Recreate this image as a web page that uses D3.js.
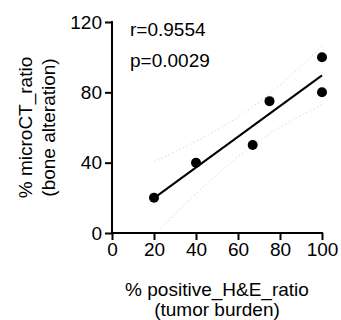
<!DOCTYPE html>
<html>
<head>
<meta charset="utf-8">
<script src="https://cdn.jsdelivr.net/npm/d3@7"></script>
<style>
  body { margin: 0; background: #fff; }
  svg text { font-family: Arial, "Liberation Sans", sans-serif; fill: #000; }
</style>
</head>
<body>
<script>
// tumor burden vs bone alteration, with linear fit + 95% CI
var tumorBurden = [20, 40, 67, 75, 100, 100];
var boneAlteration = [20, 40, 50, 75, 100, 80];
var xTicks = [0, 20, 40, 60, 80, 100];
var yTicks = [0, 40, 80, 120];
var statsText = ["r=0.9554", "p=0.0029"];

var width = 341,
    height = 320;

var svg = d3.select("body")
    .append("svg")
    .attr("width", width)
    .attr("height", height);

var x = d3.scaleLinear().domain([0, 100]).range([112, 322]);
var y = d3.scaleLinear().domain([0, 120]).range([233, 22]);

// regression
var n = tumorBurden.length;
var mx = d3.mean(tumorBurden), my = d3.mean(boneAlteration);
var sxx = 0, sxy = 0, syy = 0;
for (var i = 0; i < n; i++) {
    sxx += (tumorBurden[i] - mx) * (tumorBurden[i] - mx);
    sxy += (tumorBurden[i] - mx) * (boneAlteration[i] - my);
    syy += (boneAlteration[i] - my) * (boneAlteration[i] - my);
}
var slope = sxy / sxx,
    intercept = my - slope * mx;
var s = Math.sqrt((syy - sxy * sxy / sxx) / (n - 2));
var tCrit = 2.776; // df = 4

var xs = d3.range(20, 100.01, 1);
var band = function(sign) {
    return xs.map(function(v) {
        var se = s * Math.sqrt(1 / n + (v - mx) * (v - mx) / sxx);
        return [v, intercept + slope * v + sign * tCrit * se];
    });
};

svg.append("clipPath").attr("id", "plotClip")
    .append("rect")
    .attr("x", x(0)).attr("y", y(120))
    .attr("width", x(100) - x(0))
    .attr("height", y(0) - y(120) - 3);

var line = d3.line()
    .x(function(d) { return x(d[0]); })
    .y(function(d) { return y(d[1]); });

[1, -1].forEach(function(sg) {
    svg.append("path")
        .datum(band(sg))
        .attr("clip-path", "url(#plotClip)")
        .attr("fill", "none")
        .attr("stroke", "#c8c8c8")
        .attr("stroke-width", 1)
        .attr("stroke-dasharray", "1,3")
        .attr("d", line);
});

svg.append("path")
    .datum([[20, intercept + slope * 20], [100, intercept + slope * 100]])
    .attr("fill", "none")
    .attr("stroke", "#000")
    .attr("stroke-width", 2)
    .attr("d", line);

// axes
var xAxis = svg.append("g")
    .attr("transform", "translate(0," + y(0) + ")")
    .call(d3.axisBottom(x).tickValues(xTicks).tickSize(7).tickSizeOuter(0).tickPadding(3));
var yAxis = svg.append("g")
    .attr("transform", "translate(" + x(0) + ",0)")
    .call(d3.axisLeft(y).tickValues(yTicks).tickSize(7).tickSizeOuter(0).tickPadding(3));

[xAxis, yAxis].forEach(function(g) {
    g.selectAll(".domain, .tick line")
        .style("stroke", "#000")
        .style("stroke-width", "2px");
    g.selectAll("text").style("font-size", "19px").attr("fill", "#000");
});
xAxis.select(".domain").attr("d", "M" + (x(0) - 1) + ",0H" + (x(100) + 1));
yAxis.select(".domain").attr("d", "M0," + 1 + "V" + (y(120) - 1));
yAxis.select(".domain").attr("d", "M0," + y(0) + "V" + (y(120) - 1));

// points
svg.selectAll(".dot")
    .data(tumorBurden)
    .enter()
    .append("circle")
    .attr("class", "dot")
    .attr("cx", function(d) { return x(d); })
    .attr("cy", function(d, i) { return y(boneAlteration[i]); })
    .attr("r", 5)
    .attr("fill", "#000");

// stats
svg.selectAll(".stat")
    .data(statsText)
    .enter()
    .append("text")
    .attr("class", "stat")
    .attr("x", 130)
    .attr("y", function(d, i) { return 36 + i * 31; })
    .style("font-size", "19px")
    .text(function(d) { return d; });

// axis titles
svg.append("text")
    .attr("text-anchor", "middle")
    .attr("x", (x(0) + x(100)) / 2)
    .attr("y", 296)
    .style("font-size", "19px")
    .text("% positive_H&E_ratio");
svg.append("text")
    .attr("text-anchor", "middle")
    .attr("x", (x(0) + x(100)) / 2)
    .attr("y", 316)
    .style("font-size", "19px")
    .text("(tumor burden)");

var yl = svg.append("g")
    .attr("transform", "translate(0," + ((y(0) + y(120)) / 2) + ") rotate(-90)");
yl.append("text")
    .attr("text-anchor", "middle")
    .attr("y", 32)
    .style("font-size", "19px")
    .text("% microCT_ratio");
yl.append("text")
    .attr("text-anchor", "middle")
    .attr("y", 55)
    .style("font-size", "19px")
    .text("(bone alteration)");
</script>
</body>
</html>
